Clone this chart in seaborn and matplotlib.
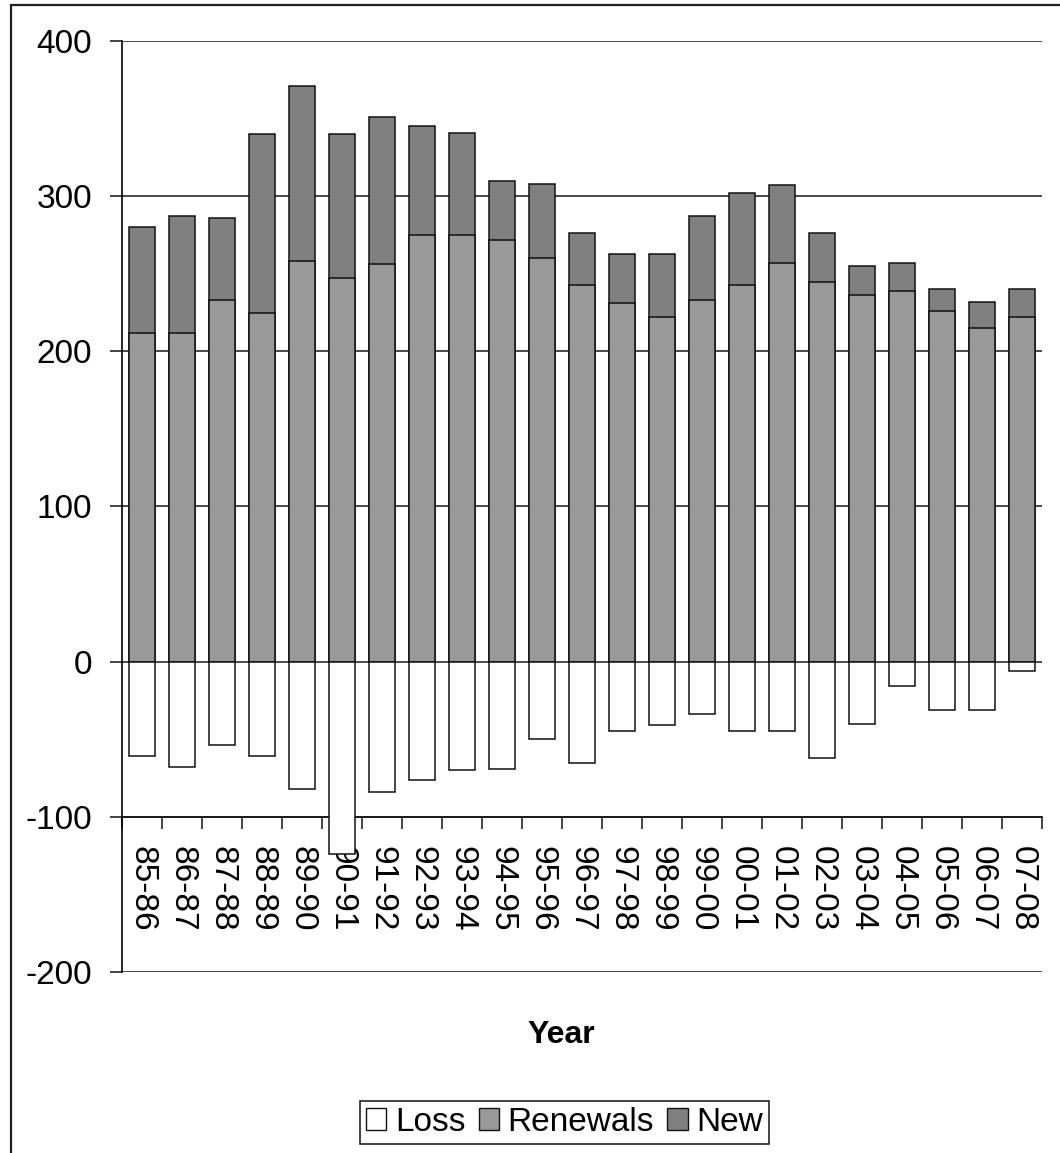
import numpy as np
import pandas as pd
import matplotlib
matplotlib.use("Agg")
import matplotlib.pyplot as plt
import matplotlib.patches as mpatches
import seaborn as sns

# Season labels
years = ["85-86", "86-87", "87-88", "88-89", "89-90", "90-91", "91-92", "92-93",
         "93-94", "94-95", "95-96", "96-97", "97-98", "98-99", "99-00", "00-01",
         "01-02", "02-03", "03-04", "04-05", "05-06", "06-07", "07-08"]

# Series values
renewals = [212, 212, 233, 225, 258, 247, 256, 275, 275, 272, 260, 243,
            231, 222, 233, 243, 257, 245, 236, 239, 226, 215, 222]
new = [68, 75, 53, 115, 113, 93, 95, 70, 66, 38, 48, 33,
       32, 41, 54, 59, 50, 31, 19, 18, 14, 17, 18]
loss = [-61, -68, -54, -61, -82, -124, -84, -76, -70, -69, -50, -65,
        -45, -41, -34, -45, -45, -62, -40, -16, -31, -31, -6]

y_ticks = [-200, -100, 0, 100, 200, 300, 400]

df = pd.DataFrame({"Year": years, "Renewals": renewals, "New": new, "Loss": loss})
df["Total"] = df["Renewals"] + df["New"]

sns.set_style("white")
plt.rcParams["font.family"] = ["Liberation Sans", "DejaVu Sans"]
plt.rcParams["text.color"] = "black"
plt.rcParams["xtick.color"] = "black"
plt.rcParams["ytick.color"] = "black"
plt.rcParams["xtick.labelcolor"] = "black"
plt.rcParams["ytick.labelcolor"] = "black"

W, H = 1060, 1153
fig = plt.figure(figsize=(W / 100, H / 100), dpi=100)
ax = fig.add_axes([122 / W, 1 - 972 / H, (1042 - 122) / W, (972 - 41) / H])

c_new = "#808080"
c_ren = "#999999"
c_loss = "#ffffff"
edge = "#111111"
bar_kw = dict(order=years, width=0.65, saturation=1, edgecolor=edge,
              linewidth=1.1, ax=ax, zorder=3)

# stacked: total (New on top) first, then Renewals over it, then Loss below zero
sns.barplot(data=df, x="Year", y="Total", color=c_new, **bar_kw)
sns.barplot(data=df, x="Year", y="Renewals", color=c_ren, **bar_kw)
sns.barplot(data=df, x="Year", y="Loss", color=c_loss, **bar_kw)

n = len(years)
ax.set_xlim(-0.5, n - 0.5)
ax.set_ylim(-200, 400)
ax.set_yticks(y_ticks)
ax.set_yticklabels([str(v) for v in y_ticks], fontsize=24, color="black")

# horizontal gridlines
ax.set_axisbelow(True)
ax.yaxis.grid(True, color="#2a2a2a", linewidth=1.2)
ax.xaxis.grid(False)

# category axis crosses at -100
for s in ["top", "right"]:
    ax.spines[s].set_visible(False)
ax.spines["bottom"].set_position(("data", -100))
ax.spines["bottom"].set_color("#111111")
ax.spines["bottom"].set_linewidth(1.2)
ax.spines["left"].set_color("#000000")
ax.spines["left"].set_linewidth(1.2)

ax.set_xticks(np.arange(-0.5, n, 1.0))
ax.set_xticklabels([])
ax.set_xticks(np.arange(n), minor=True)
ax.set_xticklabels(years, minor=True, rotation=270, fontsize=24, va="top",
                   ha="center", color="black")
ax.tick_params(axis="x", which="major", direction="out", length=8.6, width=1.1,
               color="#111111", bottom=True)
ax.tick_params(axis="x", which="minor", length=0, pad=21)
ax.tick_params(axis="y", direction="out", length=8.6, width=1.1, color="#111111",
               left=True, pad=13)
ax.set_xlabel("")
ax.set_ylabel("")

fig.text(561 / W, 1 - 1035 / H, "Year", fontsize=23, fontweight="bold",
         ha="center", va="center", color="black")

handles = [
    mpatches.Patch(facecolor=c_loss, edgecolor=edge, linewidth=1.0, label="Loss"),
    mpatches.Patch(facecolor=c_ren, edgecolor=edge, linewidth=1.0, label="Renewals"),
    mpatches.Patch(facecolor=c_new, edgecolor=edge, linewidth=1.0, label="New"),
]
leg = fig.legend(handles=handles, loc="center", bbox_to_anchor=(564.5 / W, 1 - 1122.5 / H),
                 ncol=3, fontsize=24, frameon=True, fancybox=False, framealpha=1,
                 edgecolor="#111111", handlelength=0.62, handleheight=0.62,
                 handletextpad=0.25, columnspacing=0.4, borderpad=0.18,
                 borderaxespad=0)
leg.get_frame().set_linewidth(1.1)
for t in leg.get_texts():
    t.set_color("black")

# chart-area border (open to the right and bottom)
fig.patches.append(mpatches.Rectangle((11 / W, -0.1), 1.2, 1.1 - 5 / H,
                                      transform=fig.transFigure, fill=False,
                                      edgecolor="#222222", linewidth=1.6))

fig.savefig("out.png", dpi=100)
